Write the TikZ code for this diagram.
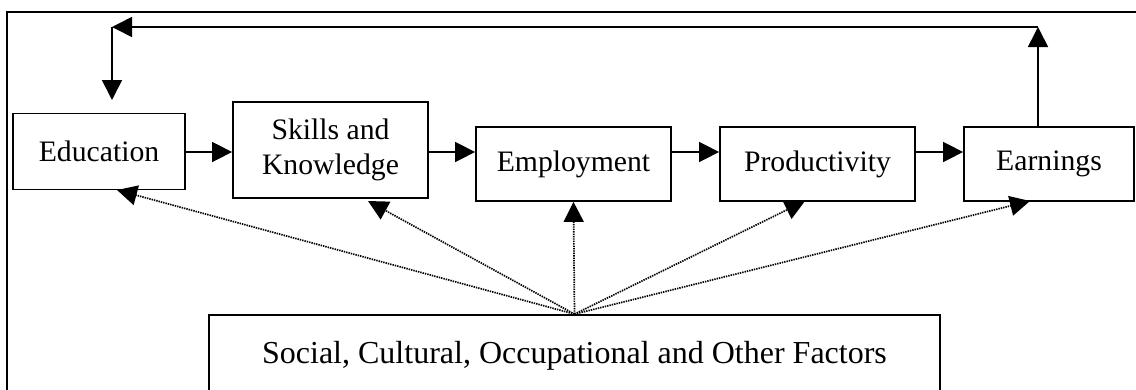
\documentclass[tikz,border=0pt]{standalone}
\usepackage{fontspec}
\setmainfont{Liberation Serif}
\usetikzlibrary{arrows.meta}
\begin{document}
\begin{tikzpicture}[x=1pt,y=-1pt,
  box/.style={draw, line width=1.8pt, rectangle, inner sep=0pt, align=center,
    font=\fontsize{29.7}{35.6}\selectfont},
  arr/.style={line width=1.6pt, -{Triangle[length=20pt,width=20pt]}},
  dotarr/.style={line width=1.7pt, dash pattern=on 1.4pt off 1.0pt,
    -{Triangle[length=20pt,width=20pt]}}]
\useasboundingbox (0,0) rectangle (1136,389);
\clip (0,0) rectangle (1136,389);
% outer frame
\draw[line width=1.8pt] (7,12) rectangle (1160,420);
% boxes
\node[box, minimum width=172pt, minimum height=76pt] (edu) at (99,151.5) {Education};
\node[box, minimum width=195pt, minimum height=96pt] (skl) at (330.5,150) {Skills and\\Knowledge};
\node[box, minimum width=195pt, minimum height=74pt] (emp) at (573.5,164) {Employment};
\node[box, minimum width=195pt, minimum height=74pt] (pro) at (817.5,164) {Productivity};
\node[box, minimum width=170pt, minimum height=74pt] (ear) at (1049,164) {Earnings};
\node[box, minimum width=731pt, minimum height=100pt, font=\fontsize{32}{38}\selectfont] (soc) at (574.5,365)
  {\raisebox{25pt}{Social, Cultural, Occupational and Other Factors}};
% main chain
\coordinate (row) at (0,152);
\draw[arr] (edu.east |- row) -- (skl.west |- row);
\draw[arr] (skl.east |- row) -- (emp.west |- row);
\draw[arr] (emp.east |- row) -- (pro.west |- row);
\draw[arr] (pro.east |- row) -- (ear.west |- row);
% feedback loop
\coordinate (fbR) at (1038,27);
\coordinate (fbL) at (112,27);
\coordinate (fbE) at (112,100);
\draw[arr] (ear.north -| fbR) -- (fbR);
\draw[arr] (fbR) -- (fbL);
\draw[arr] (fbL) -- (fbE);
% dotted influences
\draw[dotarr] (soc.north) -- (117,190);
\draw[dotarr] (soc.north) -- (368,201);
\draw[dotarr] (soc.north) -- (emp.south);
\draw[dotarr] (soc.north) -- (805,201);
\draw[dotarr] (soc.north) -- (1030,201);
\end{tikzpicture}
\end{document}
